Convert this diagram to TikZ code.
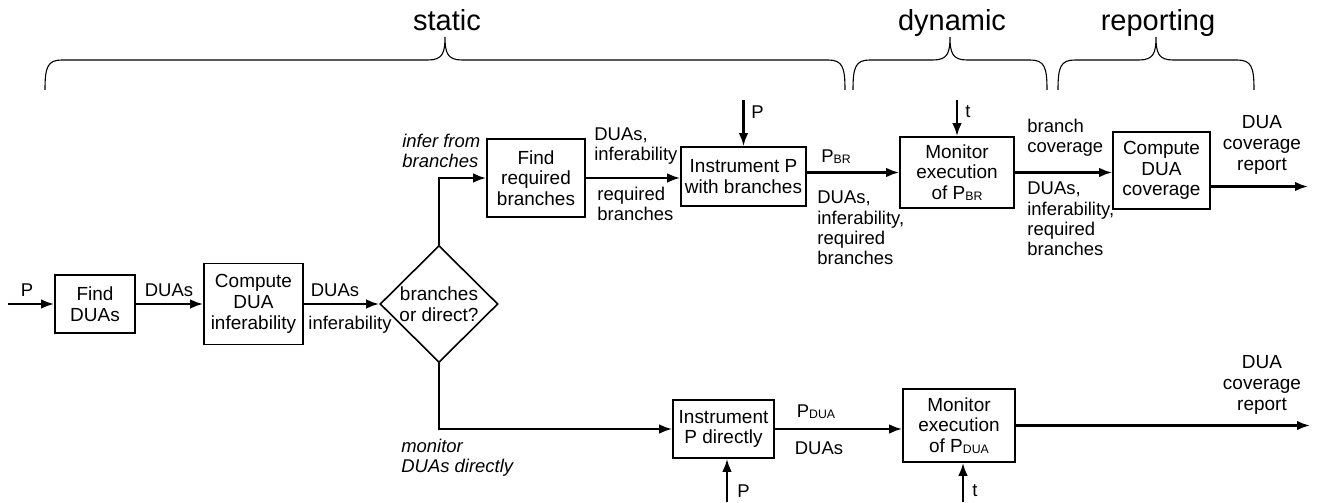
\documentclass[tikz,border=0pt]{standalone}
\usepackage{fontspec}
\setmainfont{Liberation Sans}
\usetikzlibrary{arrows.meta,shapes.geometric}

\newcommand{\subcaps}[1]{\raisebox{-0.1ex}{\scriptsize #1}}

\tikzset{
  stepbox/.style={draw, line width=0.32mm, align=center, inner sep=1pt,
    font=\fontsize{10.8}{11.8}\selectfont},
  choice/.style={draw, diamond, line width=0.32mm, align=center, inner sep=0pt,
    minimum width=2.36cm, minimum height=2.34cm, font=\fontsize{10.8}{11.8}\selectfont},
  flow/.style={line width=0.45mm, -{Latex[length=2.6mm,width=1.9mm]}},
  lbl/.style={align=left, inner sep=0pt, font=\fontsize{10.5}{11.5}\selectfont},
  clbl/.style={align=center, inner sep=0pt, font=\fontsize{10.8}{11.8}\selectfont},
  way/.style={lbl, font=\fontsize{10.5}{11.5}\selectfont\itshape},
  brace/.style={line width=0.22mm},
  phase/.style={anchor=base, inner sep=0pt, font=\fontsize{16.5}{19}\selectfont}
}

\begin{document}
\begin{tikzpicture}
\useasboundingbox (0,0) rectangle (26.44,10.04);

% phases
\foreach \l/\m/\r/\phase in {0.9/8.9/16.9/static, 17.06/19.0/20.94/dynamic, 21.16/23.12/25.08/reporting}{
  \draw[brace] (\l,8.24) .. controls (\l,8.7) and (\l+0.05,8.84) .. (\l+0.34,8.84)
    -- (\m-0.34,8.84) .. controls (\m-0.05,8.84) and (\m,8.98) .. (\m,9.3)
    .. controls (\m,8.98) and (\m+0.05,8.84) .. (\m+0.34,8.84)
    -- (\r-0.34,8.84) .. controls (\r-0.05,8.84) and (\r,8.7) .. (\r,8.24);
  \node[phase] (\phase) at (\m+0.04,9.42) {\phase};
}

% steps
\node[stepbox, minimum width=1.6cm, minimum height=1.16cm] (finddua) at (1.9,3.96) {Find\\DUAs};
\node[stepbox, minimum width=1.98cm, minimum height=1.62cm] (infer) at (5.07,3.96) {Compute\\DUA\\inferability};
\node[choice] (choose) at (8.78,3.96) {branches\\or direct?};
\node[stepbox, minimum width=1.96cm, minimum height=1.56cm] (findbr) at (10.72,6.48) {Find\\required\\branches};
\node[stepbox, minimum width=2.5cm, minimum height=1.18cm] (instbr) at (14.87,6.51) {Instrument P\\with branches};
\node[stepbox, minimum width=2.28cm, minimum height=1.42cm] (monbr) at (19.14,6.59) {Monitor\\execution\\of P\subcaps{BR}};
\node[stepbox, minimum width=1.94cm, minimum height=1.54cm] (cover) at (23.23,6.63) {Compute\\DUA\\coverage};
\node[stepbox, minimum width=2.02cm, minimum height=1.16cm] (instdua) at (14.47,1.46) {Instrument\\P directly};
\node[stepbox, minimum width=2.24cm, minimum height=1.46cm] (mondua) at (19.18,1.53) {Monitor\\execution\\of P\subcaps{DUA}};

% loose ends
\coordinate (pin) at (0.16,3.96);
\coordinate (ptop) at (14.87,8.04);
\coordinate (ttop) at (19.14,8.04);
\coordinate (pbot) at (14.54,0);
\coordinate (tbot) at (19.26,0);
\coordinate (outtop) at (26.16,6.31);
\coordinate (outbot) at (26.2,1.53);

% flow
\draw[flow] (pin) -- (finddua);
\draw[flow] (finddua) -- (infer);
\draw[flow] (infer) -- (choose);
\draw[flow] (choose.north) |- (findbr);
\draw[flow] (findbr.east) -- (findbr.east -| instbr.west);
\draw[flow] (instbr.east |- monbr) -- (monbr);
\draw[flow] (monbr.east) -- (monbr.east -| cover.west);
\draw[flow] ([yshift=-0.32cm]cover.east) -- (outtop);
\draw[flow] (choose.south) |- (instdua);
\draw[flow] (instdua.east) -- (instdua.east -| mondua.west);
\draw[flow] (mondua) -- (outbot);
\draw[flow] (ptop) -- (instbr);
\draw[flow] (ttop) -- (monbr);
\draw[flow] (pbot) -- (pbot |- instdua.south);
\draw[flow] (tbot) -- (tbot |- mondua.south);

% labels
\node[lbl] (lpin) at (0.54,4.24) {P};
\node[lbl] (ldua1) at (3.38,4.24) {DUAs};
\node[lbl] (ldua2) at (6.7,4.24) {DUAs};
\node[lbl] (linf) at (7.0,3.54) {inferability};
\node[way, anchor=west] (lbranch) at (8.04,7.02) {infer from\\branches};
\node[way, anchor=west] (ldirect) at (8.02,0.88) {monitor\\DUAs directly};
\node[lbl, anchor=west] (lfound) at (11.88,7.12) {DUAs,\\inferability};
\node[lbl, anchor=west] (lreq) at (11.94,5.96) {required\\branches};
\node[lbl, anchor=west] (lptop) at (15.02,7.8) {P};
\node[lbl] (lpbr) at (16.72,6.9) {P\subcaps{BR}};
\node[lbl, anchor=west] (lall1) at (16.34,5.48) {DUAs,\\inferability,\\required\\branches};
\node[lbl, anchor=west] (lttop) at (19.3,7.8) {t};
\node[lbl, anchor=west] (lbrcov) at (20.54,7.28) {branch\\coverage};
\node[lbl, anchor=west] (lall2) at (20.54,5.66) {DUAs,\\inferability,\\required\\branches};
\node[clbl] (lrep1) at (25.24,7.14) {DUA\\coverage\\report};
\node[lbl] (lpdua) at (16.32,1.8) {P\subcaps{DUA}};
\node[lbl] (ldua3) at (16.38,1.08) {DUAs};
\node[clbl] (lrep2) at (25.24,2.34) {DUA\\coverage\\report};
\node[lbl, anchor=west] (lpbot) at (14.74,0.22) {P};
\node[lbl, anchor=west] (ltbot) at (19.44,0.22) {t};
\end{tikzpicture}
\end{document}
